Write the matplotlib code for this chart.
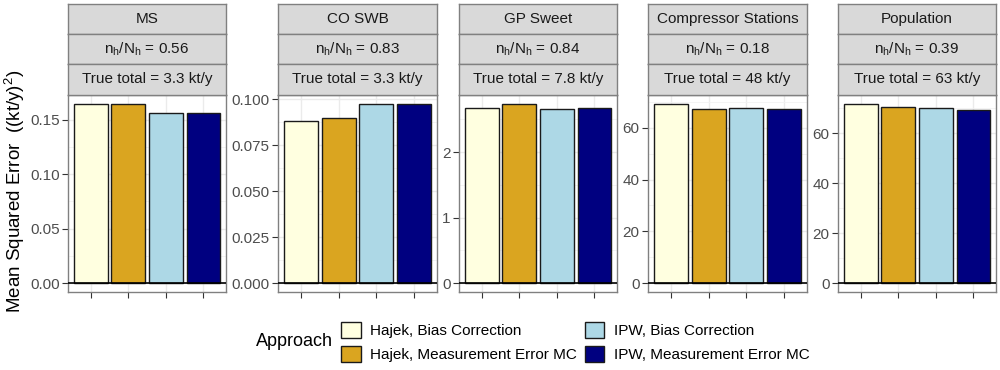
import matplotlib
matplotlib.use('Agg')
import matplotlib.pyplot as plt
from matplotlib.patches import Patch
from matplotlib.ticker import FixedLocator, AutoMinorLocator

plt.rcParams['font.family'] = ['Liberation Sans', 'DejaVu Sans']
plt.rcParams['mathtext.fontset'] = 'custom'
plt.rcParams['mathtext.rm'] = 'Liberation Sans'
plt.rcParams['mathtext.it'] = 'Liberation Sans:italic'

# Data
regions = ['MS', 'CO SWB', 'GP Sweet', 'Compressor Stations', 'Population']
sample_fractions = ['0.56', '0.83', '0.84', '0.18', '0.39']
true_totals = ['3.3', '3.3', '7.8', '48', '63']
approaches = ['Hajek, Bias Correction', 'Hajek, Measurement Error MC',
              'IPW, Bias Correction', 'IPW, Measurement Error MC']
colors = ['#FFFFE0', '#DAA520', '#ADD8E6', '#000080']

hajek_bc = [0.1645, 0.0881, 2.68, 69.2, 71.7]
hajek_me = [0.1640, 0.0897, 2.735, 67.3, 70.5]
ipw_bc = [0.1560, 0.0975, 2.66, 67.8, 70.0]
ipw_me = [0.1563, 0.0973, 2.67, 67.2, 69.2]

y_ticks = [[0, 0.05, 0.10, 0.15],
           [0, 0.025, 0.05, 0.075, 0.10],
           [0, 1, 2],
           [0, 20, 40, 60],
           [0, 20, 40, 60]]
y_fmt = ['{:.2f}', '{:.3f}', '{:.0f}', '{:.0f}', '{:.0f}']

W, H = 1000, 370
fig = plt.figure(figsize=(W / 100, H / 100), dpi=100)


def px_axes(left, top, right, bottom):
    return fig.add_axes([left / W, (H - bottom) / H, (right - left) / W, (bottom - top) / H])


panel_x = [(68, 226), (278, 437), (459, 617), (648, 807), (838, 996)]
strip_rows = [(4, 34), (34, 64), (64, 95)]
panel_top, panel_bottom = 95, 292
border = '#808080'
series = [hajek_bc, hajek_me, ipw_bc, ipw_me]

for i, region in enumerate(regions):
    left, right = panel_x[i]
    ax = px_axes(left, panel_top, right, panel_bottom)
    vals = [s[i] for s in series]
    top = max(vals)
    ax.bar(range(4), vals, width=0.9, color=colors, edgecolor='#1a1a1a',
           linewidth=1.0, zorder=3)
    ax.axhline(0, color='black', linewidth=1.2, zorder=4)
    ax.set_xlim(-0.6, 3.6)
    ax.set_ylim(-0.05 * top, 1.05 * top)
    ax.set_xticks(range(4))
    ax.set_xticklabels([])
    ax.yaxis.set_major_locator(FixedLocator(y_ticks[i]))
    ax.set_yticklabels([y_fmt[i].format(v) for v in y_ticks[i]])
    ax.yaxis.set_minor_locator(AutoMinorLocator(2))
    ax.grid(which='major', color='#EBEBEB', linewidth=1.0, zorder=0)
    ax.grid(which='minor', axis='y', color='#F2F2F2', linewidth=0.6, zorder=0)
    ax.set_axisbelow(True)
    ax.tick_params(axis='both', which='major', length=4, width=0.8,
                   color='#333333', labelsize=11, labelcolor='#4D4D4D', pad=2)
    ax.tick_params(axis='y', which='minor', length=0)
    for sp in ax.spines.values():
        sp.set_color(border)
        sp.set_linewidth(1.0)

    labels = [region,
              'n$_\\mathrm{h}$/N$_\\mathrm{h}$ = ' + sample_fractions[i],
              'True total = ' + true_totals[i] + ' kt/y']
    for (s_top, s_bot), text in zip(strip_rows, labels):
        sax = px_axes(left, s_top, right, s_bot)
        sax.set_facecolor('#D9D9D9')
        sax.set_xticks([])
        sax.set_yticks([])
        for sp in sax.spines.values():
            sp.set_color(border)
            sp.set_linewidth(1.0)
        sax.text(0.5, 0.5, text, ha='center', va='center', fontsize=11,
                 color='#1A1A1A', transform=sax.transAxes)

fig.text(15 / W, 1 - 191 / H, 'Mean Squared Error  ((kt/y)$^{2}$)', rotation=90,
         ha='center', va='center', fontsize=13.5, color='black')

# Legend
handles = [Patch(facecolor=c, edgecolor='#1a1a1a', linewidth=1.0) for c in colors]
fig.legend(handles, approaches, ncol=2, loc='center left',
           bbox_to_anchor=(341 / W, 1 - 342 / H), frameon=False, fontsize=11,
           handlelength=1.3, handleheight=1.3, handletextpad=0.6,
           columnspacing=0.5, labelspacing=0.5, borderpad=0, borderaxespad=0)
fig.text(333 / W, 1 - 342 / H, 'Approach', ha='right', va='center', fontsize=13,
         color='black')

fig.savefig('out.png', dpi=100)
